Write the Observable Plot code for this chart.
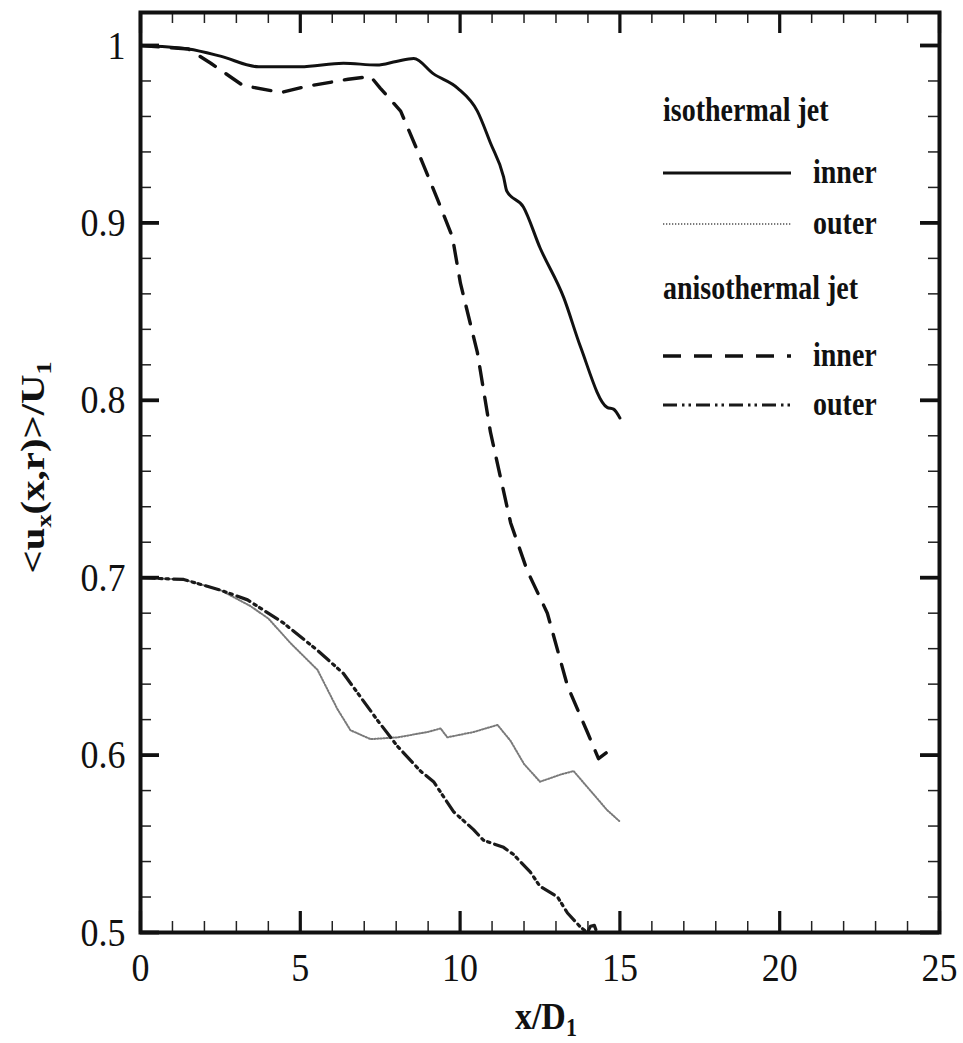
<!DOCTYPE html>
<html><head><meta charset="utf-8">
<script src="https://cdn.jsdelivr.net/npm/d3@7"></script>
<script src="https://cdn.jsdelivr.net/npm/@observablehq/plot@0.6"></script>
<style>body{margin:0;background:#fff;} svg{display:block;}</style>
</head><body><div id="chart"></div>
<script>
// ---- data ----
const isoInnerX = [0, 1.5, 2.5, 3.7, 5.0, 6.35, 7.4, 8.0, 8.55, 9.17, 9.92, 10.54, 10.95, 11.36, 11.46, 11.98, 12.5, 13.24, 13.77, 14.6, 14.8, 15.0];
const isoInnerY = [1.0, 0.998, 0.994, 0.988, 0.988, 0.990, 0.989, 0.991, 0.9927, 0.984, 0.976, 0.963, 0.945, 0.926, 0.918, 0.909, 0.886, 0.858, 0.830, 0.796, 0.795, 0.790];

const isoOuterX = [0, 1.35, 2.5, 3.44, 4.0, 4.7, 5.54, 6.16, 6.57, 7.2, 8.04, 8.98, 9.39, 9.6, 10.42, 11.17, 11.58, 12.0, 12.5, 13.14, 13.55, 13.98, 14.6, 15.0];
const isoOuterY = [0.700, 0.699, 0.693, 0.684, 0.677, 0.663, 0.648, 0.626, 0.614, 0.609, 0.610, 0.613, 0.615, 0.610, 0.613, 0.617, 0.608, 0.595, 0.585, 0.589, 0.591, 0.582, 0.569, 0.5625];

const anisoInnerX = [0, 1.5, 2.2, 3.2, 4.4, 5.2, 6.5, 7.2, 7.5, 8.14, 8.8, 9.3, 9.76, 10.01, 10.54, 10.95, 11.58, 12.1, 12.73, 13.36, 13.98, 14.33, 14.7];
const anisoInnerY = [1.0, 0.998, 0.990, 0.9775, 0.9735, 0.977, 0.981, 0.9825, 0.976, 0.963, 0.935, 0.913, 0.892, 0.866, 0.827, 0.782, 0.731, 0.704, 0.680, 0.639, 0.613, 0.598, 0.603];

const anisoOuterX = [0, 1.35, 2.5, 3.35, 4.47, 5.54, 6.35, 7.4, 8.04, 8.76, 9.17, 9.8, 10.42, 10.73, 11.36, 11.67, 12.2, 12.5, 13.05, 13.36, 13.77, 13.98, 14.08, 14.2, 14.3];
const anisoOuterY = [0.700, 0.699, 0.693, 0.6875, 0.6745, 0.659, 0.646, 0.620, 0.605, 0.591, 0.585, 0.568, 0.558, 0.552, 0.548, 0.544, 0.534, 0.526, 0.520, 0.511, 0.503, 0.500, 0.5035, 0.504, 0.499];

const xTicks = [0, 5, 10, 15, 20, 25];
const xTickLabels = ["0", "5", "10", "15", "20", "25"];
const yTicks = [0.5, 0.6, 0.7, 0.8, 0.9, 1.0];
const yTickLabels = ["0.5", "0.6", "0.7", "0.8", "0.9", "1"];
const xMinorTicks = d3.range(0, 26, 1);
const yMinorTicks = d3.range(0, 26).map(i => 0.5 + i * 0.02);

const legendTitles = ["isothermal jet", "anisothermal jet"];
const legendLabels = ["inner", "outer", "inner", "outer"];

// ---- layout ----
const W = 963, H = 1043;
const mL = 140, mR = 24, mT = 12, mB = 111;
const fw = W - mL - mR, fh = H - mT - mB;
const FONT = "'Liberation Serif', 'Times New Roman', serif";
const STRETCH = 1.14;

const pts = (xs, ys) => xs.map((x, i) => ({x, y: ys[i]}));

const styles = {
  isoInner:   {stroke: "#111", strokeWidth: 3},
  isoOuter:   {stroke: "#7a7a7a", strokeWidth: 2, strokeDasharray: "1.3,1.7"},
  anisoInner: {stroke: "#111", strokeWidth: 3.4, strokeDasharray: "18,13"},
  anisoOuter: {stroke: "#1a1a1a", strokeWidth: 3.2, strokeDasharray: "14,5,2.5,4,2.5,5"}
};

const chart = Plot.plot({
  width: W, height: H,
  marginLeft: mL, marginRight: mR, marginTop: mT, marginBottom: mB,
  style: {fontFamily: FONT, background: "#fff", color: "#111"},
  x: {domain: [0, 25]},
  y: {domain: [0.5, 1.0186]},
  marks: [
    Plot.line(pts(isoInnerX, isoInnerY), {x: "x", y: "y", ...styles.isoInner, curve: "monotone-x", clip: true}),
    Plot.line(pts(isoOuterX, isoOuterY), {x: "x", y: "y", ...styles.isoOuter, clip: true}),
    Plot.line(pts(anisoInnerX, anisoInnerY), {x: "x", y: "y", ...styles.anisoInner, clip: true}),
    Plot.line(pts(anisoOuterX, anisoOuterY), {x: "x", y: "y", ...styles.anisoOuter, clip: true}),
    // minor ticks (inward, all four sides)
    Plot.ruleX(xMinorTicks, {x: d => d, insetTop: fh - 11, strokeWidth: 1.5, stroke: "#222"}),
    Plot.ruleX(xMinorTicks, {x: d => d, insetBottom: fh - 11, strokeWidth: 1.5, stroke: "#222"}),
    Plot.ruleY(yMinorTicks, {y: d => d, insetRight: fw - 11, strokeWidth: 1.5, stroke: "#222"}),
    Plot.ruleY(yMinorTicks, {y: d => d, insetLeft: fw - 11, strokeWidth: 1.5, stroke: "#222"}),
    // major ticks
    Plot.ruleX(xTicks, {x: d => d, insetTop: fh - 21, strokeWidth: 3.2, stroke: "#111"}),
    Plot.ruleX(xTicks, {x: d => d, insetBottom: fh - 21, strokeWidth: 3.2, stroke: "#111"}),
    Plot.ruleY(yTicks, {y: d => d, insetRight: fw - 19, strokeWidth: 3.8, stroke: "#111"}),
    Plot.ruleY(yTicks, {y: d => d, insetLeft: fw - 19, strokeWidth: 3.8, stroke: "#111"}),
    Plot.frame({stroke: "#111", strokeWidth: 4}),
    Plot.axisX({ticks: xTicks, tickSize: 0, tickPadding: 19, fontSize: 36, label: null,
      tickFormat: d => xTickLabels[xTicks.indexOf(d)]}),
    Plot.axisY({ticks: yTicks, tickSize: 0, tickPadding: 15, fontSize: 36, label: null,
      tickFormat: d => yTickLabels[yTicks.findIndex(t => Math.abs(t - d) < 1e-9)]})
  ]
});

document.getElementById("chart").appendChild(chart);
const svg = d3.select(chart);

// vertical stretch of tick labels (the reference font looks tall/narrow)
svg.selectAll('g[aria-label="x-axis tick label"] text, g[aria-label="y-axis tick label"] text')
  .attr("transform", function() { return (this.getAttribute("transform") || "") + ` scale(1,${STRETCH})`; })
  .attr("fill", "#111");

// y axis title with subscripts
const yt = svg.append("text")
  .attr("transform", `translate(44,${mT + fh * 0.495}) scale(1,1.2) rotate(-90)`)
  .attr("text-anchor", "middle")
  .attr("font-family", FONT).attr("font-weight", "bold").attr("font-size", 34).attr("fill", "#111");
yt.append("tspan").text("<u");
yt.append("tspan").attr("font-size", 22).attr("dy", 7).text("x");
yt.append("tspan").attr("dy", -7).text("(x,r)>/U");
yt.append("tspan").attr("font-size", 22).attr("dy", 7).text("1");

// x axis title
const xt = svg.append("text")
  .attr("transform", `translate(${mL + fw * 0.508},${H - 14}) scale(1,1.12)`)
  .attr("text-anchor", "middle")
  .attr("font-family", FONT).attr("font-weight", "bold").attr("font-size", 34).attr("fill", "#111");
xt.append("tspan").text("x/D");
xt.append("tspan").attr("font-size", 22).attr("dy", 6).text("1");

// legend inside the frame
const lg = svg.append("g").attr("transform", `translate(663,0)`)
  .attr("font-family", FONT).attr("font-weight", "bold").attr("fill", "#111")
  .attr("text-anchor", "start");
const lt = (txt, x, y) => lg.append("text").attr("transform", `translate(${x},${y}) scale(1,1.18)`)
  .attr("text-anchor", "start").attr("font-size", 28).text(txt);
lt(legendTitles[0], 0, 121);
lt(legendTitles[1], 0, 299);
const rows = [
  {y: 173, s: styles.isoInner, label: legendLabels[0]},
  {y: 224, s: styles.isoOuter, label: legendLabels[1]},
  {y: 356, s: styles.anisoInner, label: legendLabels[2]},
  {y: 405, s: styles.anisoOuter, label: legendLabels[3]}
];
rows.forEach(r => {
  lg.append("line").attr("x1", 0).attr("x2", 128).attr("y1", r.y).attr("y2", r.y)
    .attr("stroke", r.s.stroke).attr("stroke-width", r.s.strokeWidth)
    .attr("stroke-dasharray", r.s.strokeDasharray || null);
  lt(r.label, 150, r.y + 10);
});
</script>
</body></html>
